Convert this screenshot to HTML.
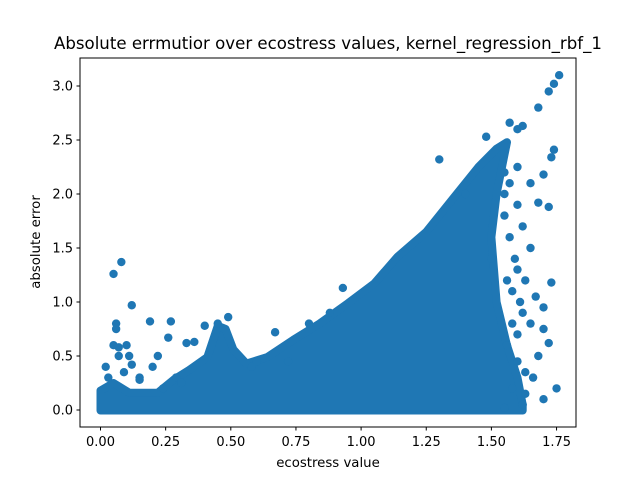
<!DOCTYPE html>
<html><head><meta charset="utf-8"><style>
body{margin:0;background:#fff;}
svg{display:block;font-family:"DejaVu Sans","Liberation Sans",sans-serif;}
</style></head><body>
<svg id="chart" width="640" height="480">
<rect width="640" height="480" fill="#fff"/>
<text x="328" y="49" text-anchor="middle" font-size="16.6">Absolute errmutior over ecostress values, kernel_regression_rbf_1</text>
<g id="plot"></g>
<rect x="80" y="58" width="496" height="369" fill="none" stroke="#000" stroke-width="1"/>
<g id="axes"></g>
<text x="328" y="467" text-anchor="middle" font-size="13.3">ecostress value</text>
<text transform="translate(40,242) rotate(-90)" text-anchor="middle" font-size="13.3">absolute error</text>
</svg>
<script>
const xTicks=[0,0.25,0.5,0.75,1.0,1.25,1.5,1.75];
const xTickLabels=["0.00","0.25","0.50","0.75","1.00","1.25","1.50","1.75"];
const yTicks=[0,0.5,1.0,1.5,2.0,2.5,3.0];
const yTickLabels=["0.0","0.5","1.0","1.5","2.0","2.5","3.0"];
const denseX=[0.0,0.05,0.11,0.22,0.28,0.34,0.41,0.45,0.48,0.51,0.56,0.64,0.74,0.84,0.95,1.05,1.14,1.25,1.35,1.45,1.52,1.56,1.52,1.5,1.52,1.56,1.6,1.62,1.62,0.0];
const denseY=[0.18,0.25,0.16,0.16,0.28,0.37,0.49,0.78,0.75,0.56,0.43,0.49,0.65,0.8,0.99,1.17,1.42,1.65,1.95,2.25,2.42,2.48,2.0,1.6,1.0,0.6,0.3,0.05,-0.005,-0.005];
const outX=[0.02,0.05,0.08,0.06,0.06,0.12,0.05,0.1,0.19,0.27,0.2,0.26,0.33,0.36,0.4,0.45,0.49,0.58,0.67,0.8,0.88,0.93,1.3,1.48,1.57,1.6,1.62,1.68,1.72,1.74,1.76,1.73,1.74,1.7,1.65,1.68,1.72,1.6,1.62,1.65,1.6,1.63,1.67,1.7,1.73,1.65,1.7,1.72,1.68,1.63,1.75,1.7,1.6,1.55,1.4,1.5,0.72,0.6,0.15,0.22,1.58,1.62,1.56,1.6,1.66,1.58,1.62,1.55,1.55,1.57,1.59,1.61,1.56,1.58,1.6,1.63,1.55,1.57,0.03,0.07,0.09,0.12,0.15,0.24,0.29,0.31,0.11,0.07];
const outY=[0.4,1.26,1.37,0.8,0.75,0.97,0.6,0.6,0.82,0.82,0.4,0.67,0.62,0.63,0.78,0.8,0.86,0.4,0.72,0.8,0.9,1.13,2.32,2.53,2.66,2.6,2.63,2.8,2.95,3.02,3.1,2.34,2.41,2.18,2.1,1.92,1.88,1.9,1.7,1.5,1.3,1.2,1.05,0.95,1.18,0.8,0.75,0.62,0.5,0.35,0.2,0.1,2.25,2.0,2.0,1.4,0.45,0.45,0.3,0.5,1.1,0.9,0.6,0.45,0.3,0.2,0.05,0.02,1.8,1.6,1.4,1.0,1.2,0.8,0.7,0.15,2.2,2.1,0.3,0.5,0.35,0.42,0.28,0.2,0.3,0.25,0.5,0.58];
const NS="http://www.w3.org/2000/svg";
function sx(v){return 100.5+v*260.6;}
function sy(v){return 410-v*108;}
const plot=document.getElementById('plot');
const axes=document.getElementById('axes');
const C="#1f77b4";
let pts=denseX.map((x,i)=>sx(x).toFixed(1)+","+sy(denseY[i]).toFixed(1)).join(" ");
const poly=document.createElementNS(NS,'polygon');
poly.setAttribute('points',pts);
poly.setAttribute('fill',C);poly.setAttribute('stroke',C);
poly.setAttribute('stroke-width','8');poly.setAttribute('stroke-linejoin','round');


plot.appendChild(poly);
outX.forEach((x,i)=>{
 const c=document.createElementNS(NS,'circle');
 c.setAttribute('cx',sx(x));c.setAttribute('cy',sy(outY[i]));c.setAttribute('r','4.2');c.setAttribute('fill',C);
 
 
 plot.appendChild(c);
});
xTicks.forEach((t,i)=>{
 const l=document.createElementNS(NS,'line');
 l.setAttribute('x1',sx(t));l.setAttribute('x2',sx(t));l.setAttribute('y1',427);l.setAttribute('y2',430.5);l.setAttribute('stroke','#000');
 
 
 axes.appendChild(l);
 const tx=document.createElementNS(NS,'text');
 tx.setAttribute('x',sx(t));tx.setAttribute('y',446);tx.setAttribute('text-anchor','middle');tx.setAttribute('font-size','13');
 tx.textContent=xTickLabels[i];
 
 
 axes.appendChild(tx);
});
yTicks.forEach((t,i)=>{
 const l=document.createElementNS(NS,'line');
 l.setAttribute('x1',76.5);l.setAttribute('x2',80);l.setAttribute('y1',sy(t));l.setAttribute('y2',sy(t));l.setAttribute('stroke','#000');
 
 
 axes.appendChild(l);
 const tx=document.createElementNS(NS,'text');
 tx.setAttribute('x',73);tx.setAttribute('y',sy(t)+4.5);tx.setAttribute('text-anchor','end');tx.setAttribute('font-size','13');
 tx.textContent=yTickLabels[i];
 
 
 axes.appendChild(tx);
});
</script>
</body></html>
